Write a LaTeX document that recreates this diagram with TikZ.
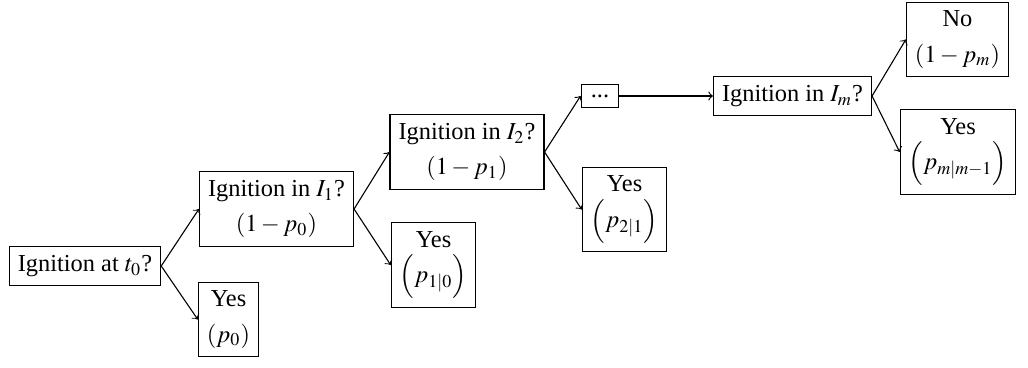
\documentclass[tikz,border=0pt]{standalone}
\usepackage{mathptmx}
\usepackage{fontspec}
\setmainfont{Liberation Serif}
\begin{document}
\begin{tikzpicture}[x=0.41pt,y=-0.41pt,
  box/.style={draw,line width=0.45pt,align=center,inner sep=3.5pt,font=\fontsize{10}{14.5}\selectfont},
  edge/.style={->,line width=0.45pt}]
\useasboundingbox (0,0) rectangle (1028,367);
\node[box] (t0) at (85,266) {Ignition at $t_0$?};
\node[box] (i1) at (276.5,209) {Ignition in $I_1$?\\$(1-p_0)$};
\node[box] (y0) at (228.5,319.5) {Yes\\$(p_0)$};
\node[box] (i2) at (467,152) {Ignition in $I_2$?\\$(1-p_1)$};
\node[box] (y1) at (433.5,265) {Yes\\$\Bigl(p_{1|0}\Bigr)$};
\node[box,inner sep=4pt] (dots) at (600,96) {...};
\node[box] (y2) at (624.5,209.5) {Yes\\$\Bigl(p_{2|1}\Bigr)$};
\node[box] (im) at (792.5,96) {Ignition in $I_m$?};
\node[box] (no) at (957.5,39.5) {No\\$(1-p_m)$};
\node[box] (ym) at (958,152) {Yes\\$\Bigl(p_{m|m-1}\Bigr)$};
\draw[edge] (t0.east) -- (i1.west);
\draw[edge] (t0.east) -- (y0.west);
\draw[edge] (i1.east) -- (i2.west);
\draw[edge] (i1.east) -- (y1.west);
\draw[edge] (i2.east) -- (dots.west);
\draw[edge] (i2.east) -- (y2.west);
\draw[edge] (dots.east) -- (im.west);
\draw[edge] (im.east) -- (no.west);
\draw[edge] (im.east) -- (ym.west);
\end{tikzpicture}
\end{document}
